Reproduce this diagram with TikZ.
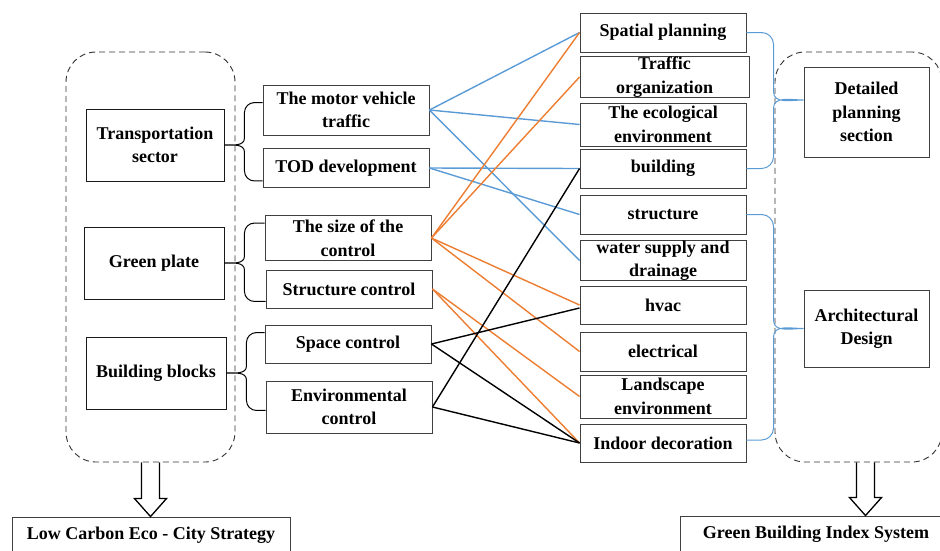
\documentclass[tikz,border=0pt]{standalone}
\usepackage{fontspec}
\setmainfont{Liberation Serif}
\usetikzlibrary{calc}

\definecolor{linkblue}{RGB}{91,155,213}
\definecolor{linkorange}{RGB}{237,125,49}

\tikzset{
  box/.style={draw=black!75, line width=0.9pt, fill=white, inner sep=0pt, align=center,
    minimum width=166, minimum height=39, font=\bfseries\fontsize{18}{23.5}\selectfont},
  sector/.style={box, draw=black!90, minimum width=138, minimum height=72},
  frame/.style={draw=black!80, line width=0.9pt, dash pattern=on 6pt off 4pt,
    rounded corners=30pt, inner sep=0pt},
  bluelink/.style={draw=linkblue, line width=1.4pt},
  orangelink/.style={draw=linkorange, line width=1.4pt},
  blacklink/.style={draw=black, line width=1.4pt},
  bracepath/.style={line width=1pt},
  arrowline/.style={draw=black, line width=1.3pt, line join=miter}
}

% curly brace from two box ends to a tip on the left
\newcommand{\leftbrace}[3]{%
  \draw[bracepath] let \p1=(#1), \p2=(#2), \p3=(#3) in
    (\p1) -- (\x3+30pt,\y1) to[out=180,in=90] (\x3+20pt,\y1-10pt)
    -- (\x3+20pt,\y3+7pt) to[out=-90,in=0] (\p3)
    to[out=0,in=90] (\x3+20pt,\y3-7pt) -- (\x3+20pt,\y2+10pt)
    to[out=-90,in=180] (\x3+30pt,\y2) -- (\p2);}
% same, tip on the right
\newcommand{\rightbrace}[3]{%
  \draw[bracepath, linkblue] let \p1=(#1), \p2=(#2), \p3=(#3) in
    (\p1) -- (\x3-42pt,\y1) to[out=0,in=90] (\x3-30pt,\y1-12pt)
    -- (\x3-30pt,\y3+8pt) to[out=-90,in=180] (\p3)
    to[out=180,in=90] (\x3-30pt,\y3-8pt) -- (\x3-30pt,\y2+12pt)
    to[out=-90,in=0] (\x3-42pt,\y2) -- (\p2);}
% hollow block arrow pointing down
\newcommand{\blockarrow}[2]{%
  \draw[arrowline] let \p1=(#1), \p2=(#2) in
    (\x1-9pt,\y1) -- (\x1-9pt,\y2+18pt) -- (\x1-16pt,\y2+18pt) -- (\x1,\y2)
    -- (\x1+16pt,\y2+18pt) -- (\x1+9pt,\y2+18pt) -- (\x1+9pt,\y1);}

\begin{document}
\begin{tikzpicture}[x=1pt, y=-1pt]
    \useasboundingbox (0,0) rectangle (940,550);
    \clip (0,0) rectangle (940,550);

    % dashed groups
    \node[frame, minimum width=169, minimum height=410] (leftframe) at (150.5,257) {};
    \node[frame, minimum width=167, minimum height=410] (rightframe) at (858.5,257) {};

    % strategy side
    \node[sector] (transport) at (155,145) {Transportation\\sector};
    \node[sector, minimum width=140] (greenplate) at (154,263) {Green plate};
    \node[sector, minimum width=140] (blocks) at (156,373) {Building blocks};

    \node[box, minimum height=50] (motor) at (346,110) {The motor vehicle\\traffic};
    \node[box] (tod) at (346,168) {TOD development};
    \node[box, minimum height=45] (sizectl) at (348,238) {The size of the\\control};
    \node[box, minimum height=38] (structctl) at (349,289) {Structure control};
    \node[box, minimum height=38] (spacectl) at (348,344) {Space control};
    \node[box, minimum height=52] (envctl) at (349,407) {Environmental\\control};

    % index side
    \node[box] (spatial) at (663,32.5) {Spatial planning};
    \node[box, minimum width=169, minimum height=38] (traffic) at (664.5,77) {Traffic\\organization};
    \node[box, minimum height=43] (eco) at (663,124.5) {The ecological\\environment};
    \node[box] (building) at (663,168.5) {building};
    \node[box] (structure) at (663,214.5) {structure};
    \node[box] (water) at (663,260.5) {water supply and\\drainage};
    \node[box, minimum height=38] (hvac) at (663,305) {hvac};
    \node[box] (electrical) at (663,351.5) {electrical};
    \node[box, minimum height=43] (landscape) at (663,396.5) {Landscape\\environment};
    \node[box, minimum height=38] (indoor) at (663,443) {Indoor decoration};

    \node[box, minimum width=125, minimum height=90] (detailed) at (866.5,112) {Detailed\\planning\\section};
    \node[box, minimum width=125, minimum height=77] (archdesign) at (866.5,328.5) {Architectural\\Design};

    \node[box, minimum width=278, minimum height=36] (lowcarbon) at (151,535) {Low Carbon Eco - City Strategy};
    \node[box, minimum width=272, minimum height=36] (greenindex) at (816,534) {Green Building Index System};

    % links
    \draw[bluelink] (motor.east) -- (spatial.west);
    \draw[bluelink] (motor.east) -- (eco.west);
    \draw[bluelink] (motor.east) -- (water.west);
    \draw[bluelink] (tod.east) -- (building.west);
    \draw[bluelink] (tod.east) -- (structure.west);

    \draw[orangelink] (sizectl.east) -- (spatial.west);
    \draw[orangelink] (sizectl.east) -- (traffic.west);
    \draw[orangelink] (sizectl.east) -- (hvac.west);
    \draw[orangelink] (sizectl.east) -- (electrical.west);
    \draw[orangelink] (structctl.east) -- (landscape.west);
    \draw[orangelink] (structctl.east) -- (indoor.west);

    \draw[blacklink] (spacectl.east) -- ([yshift=-3pt]hvac.west);
    \draw[blacklink] (spacectl.east) -- (indoor.west);
    \draw[blacklink] (envctl.east) -- (building.west);
    \draw[blacklink] (envctl.east) -- (indoor.west);

    % braces
    \leftbrace{[yshift=-18pt]motor.north west}{[yshift=7pt]tod.south west}{transport.east}
    \leftbrace{[yshift=-8pt]sizectl.north west}{[yshift=7pt]structctl.south west}{greenplate.east}
    \leftbrace{[yshift=-8pt]spacectl.north west}{[yshift=23pt]envctl.south west}{blocks.east}
    \rightbrace{spatial.east}{building.east}{[yshift=12pt]detailed.west}
    \rightbrace{structure.east}{[yshift=3pt]indoor.east}{archdesign.west}

    % results
    \blockarrow{leftframe.south}{lowcarbon.north}
    \blockarrow{[xshift=7pt]rightframe.south}{greenindex.north}
\end{tikzpicture}
\end{document}
